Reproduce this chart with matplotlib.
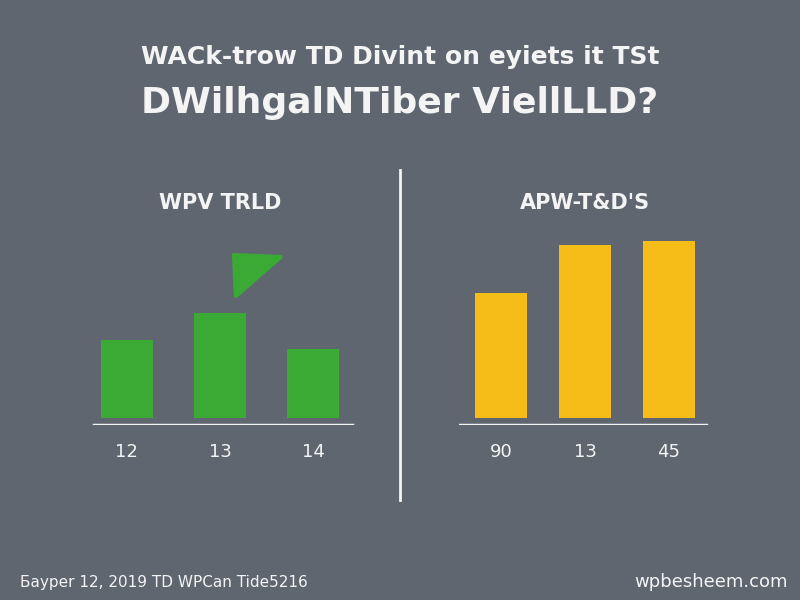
import matplotlib.pyplot as plt
from matplotlib.patches import Polygon

BG = "#5f6670"
GREEN = "#3aaa35"
YELLOW = "#f6bd18"
WHITE = "#f4f4f4"

title_1 = "WACk-trow TD Divint on eyiets it TSt"
title_2 = "DWilhgalNTiber ViellLLD?"
footer_left = "Бayper 12, 2019 TD WPCan Tide5216"
footer_right = "wpbesheem.com"

left_title = "WPV TRLD"
left_labels = ["12", "13", "14"]
left_values = [78, 105, 69]

right_title = "APW-T&D'S"
right_labels = ["90", "13", "45"]
right_values = [125, 173, 177]

fig = plt.figure(figsize=(8, 6), dpi=100)
fig.patch.set_facecolor(BG)

fig.text(0.5, 0.905, title_1, ha="center", va="center", fontsize=18,
         color=WHITE, fontweight="bold", family="DejaVu Sans")
fig.text(0.5, 0.828, title_2, ha="center", va="center", fontsize=26,
         color=WHITE, fontweight="bold", family="DejaVu Sans")
fig.text(0.025, 0.03, footer_left, ha="left", va="center", fontsize=11, color=WHITE)
fig.text(0.985, 0.03, footer_right, ha="right", va="center", fontsize=13, color=WHITE)

# divider
fig.add_artist(plt.Line2D([0.5, 0.5], [1 - 500 / 600, 1 - 170 / 600],
                          color=WHITE, lw=2))


def panel(rect, labels, values, color, title, width, span):
    ax = fig.add_axes(rect)
    ax.set_facecolor("none")
    x = range(len(values))
    ax.bar(x, values, width=width, color=color, bottom=0)
    ax.set_xlim(-0.5, len(values) - 0.5)
    ax.set_ylim(-7, 193)
    ax.axhline(-7, xmin=span[0], xmax=span[1], color=WHITE, lw=2.5)
    for s in ax.spines.values():
        s.set_visible(False)
    ax.set_yticks([])
    ax.set_xticks(list(x))
    ax.set_xticklabels(labels, color=WHITE, fontsize=13)
    ax.tick_params(axis="x", length=0, pad=13)
    ax.set_title(title, color=WHITE, fontsize=15, fontweight="bold", pad=0,
                 y=1.08)
    return ax


h = 200 / 600
axl = panel([80 / 800, 1 - 425 / 600, 280 / 800, h], left_labels, left_values,
            GREEN, left_title, 0.56, (0.05, 0.97))
axr = panel([459 / 800, 1 - 425 / 600, 252 / 800, h], right_labels, right_values,
            YELLOW, right_title, 0.63, (0.0, 0.98))

# green arrow-head decoration above the middle bar
axl.add_patch(Polygon([(1.15, 163), (1.65, 161), (1.17, 122)], closed=True,
                      color=GREEN, joinstyle="round", lw=3))

fig.savefig("out.png", dpi=100, facecolor=BG)
